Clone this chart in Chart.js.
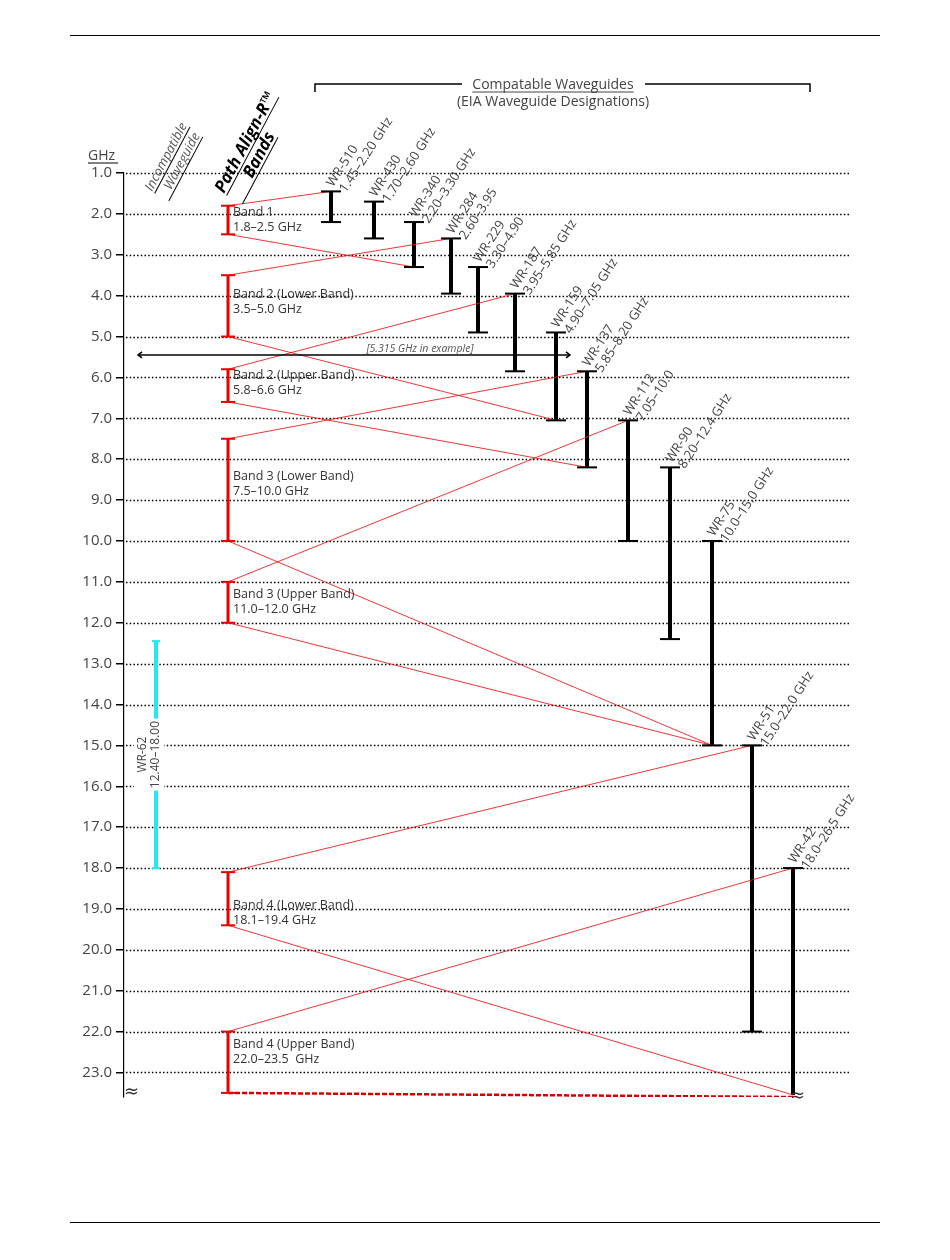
<!DOCTYPE html>
<html><head><meta charset="utf-8">
<script src="https://cdn.jsdelivr.net/npm/chart.js@4.4.1/dist/chart.umd.min.js"></script>
<style>html,body{margin:0;padding:0;background:#fff}</style>
</head><body>
<canvas id="c" width="950" height="1260"></canvas>
<script>
// ---- data ----
const wgNames  = ['WR-510','WR-430','WR-340','WR-284','WR-229','WR-187','WR-159','WR-137','WR-112','WR-90','WR-75','WR-51','WR-42'];
const wgLow    = [1.45,1.70,2.20,2.60,3.30,3.95,4.90,5.85,7.05,8.20,10.0,15.0,18.0];
const wgHigh   = [2.20,2.60,3.30,3.95,4.90,5.85,7.05,8.20,10.0,12.4,15.0,22.0,26.5];
const wgRange  = ['1.45–2.20 GHz','1.70–2.60 GHz','2.20–3.30 GHz','2.60–3.95','3.30–4.90','3.95–5.85 GHz','4.90–7.05 GHz','5.85–8.20 GHz','7.05–10.0','8.20–12.4 GHz','10.0–15.0 GHz','15.0–22.0 GHz','18.0–26.5 GHz'];
const bandNames = ['Band 1','Band 2 (Lower Band)','Band 2 (Upper Band)','Band 3 (Lower Band)','Band 3 (Upper Band)','Band 4 (Lower Band)','Band 4 (Upper Band)'];
const bandLow   = [1.8,3.5,5.8,7.5,11.0,18.1,22.0];
const bandHigh  = [2.5,5.0,6.6,10.0,12.0,19.4,23.5];
const bandRange = ['1.8–2.5 GHz','3.5–5.0 GHz','5.8–6.6 GHz','7.5–10.0 GHz','11.0–12.0 GHz','18.1–19.4 GHz','22.0–23.5  GHz'];
// band -> waveguide connections: [band, bandEnd, waveguide, wgEnd]
const links = [[0,'lo',0,'lo'],[0,'hi',2,'hi'],[1,'lo',3,'lo'],[1,'hi',6,'hi'],[2,'lo',5,'lo'],[2,'hi',7,'hi'],
  [3,'lo',7,'lo'],[3,'hi',10,'hi'],[4,'lo',8,'lo'],[4,'hi',10,'hi'],[5,'lo',11,'lo'],[5,'hi',12,'hi'],[6,'lo',12,'lo'],[6,'hi',12,'hi']];
const incompName = 'WR-62', incompLow = 12.45, incompHigh = 18.0, incompRange = '12.40–18.00';
const exampleGHz = 5.45, exampleLabel = '[5.315 GHz in example]';
const yTicks = [1,2,3,4,5,6,7,8,9,10,11,12,13,14,15,16,17,18,19,20,21,22,23];

// ---- layout (not data) ----
const wgX = [207,250,290,327,354,391,432,463,504,546,588,628,669];
const bandX = 104, incompX = 32, AX = 124;
const bandLabelY = [2.05,4.05,6.05,8.5,11.4,19.0,22.4];
const YCLIP = 23.55;

const datasets = [];
const clip = v => Math.min(v, YCLIP);
links.forEach(([b,be,w,we],i) => {
  const dashed = (b===6 && be==='hi');
  datasets.push({data:[{x:bandX,y:clip(be==='lo'?bandLow[b]:bandHigh[b])},{x:wgX[w],y:clip(we==='lo'?wgLow[w]:wgHigh[w])+(dashed?0.05:0)}],
    borderColor: dashed?'#d40000':'rgba(235,20,20,0.85)', borderWidth: dashed?2.5:1, borderDash: dashed?[5,2]:[], pointRadius:0});
});
wgNames.forEach((n,i)=>datasets.push({data:[{x:wgX[i],y:wgLow[i]},{x:wgX[i],y:clip(wgHigh[i])}],borderColor:'#000',borderWidth:4,pointRadius:0,borderCapStyle:'butt'}));
bandNames.forEach((n,i)=>datasets.push({data:[{x:bandX,y:bandLow[i]},{x:bandX,y:bandHigh[i]}],borderColor:'#ee0000',borderWidth:3,pointRadius:0,borderCapStyle:'butt'}));
datasets.push({data:[{x:incompX,y:incompLow},{x:incompX,y:incompHigh}],borderColor:'#22e8f2',borderWidth:4,pointRadius:0,borderCapStyle:'butt'});

const deco = {
  id:'deco',
  beforeDatasetsDraw(chart){
    const {ctx, scales:{x,y}} = chart;
    ctx.save();
    ctx.strokeStyle='#000'; ctx.lineWidth=1.6; ctx.setLineDash([1.5,2.2]);
    yTicks.forEach(v=>{const py=Math.round(y.getPixelForValue(v))+0.5;ctx.beginPath();ctx.moveTo(AX+2,py);ctx.lineTo(850,py);ctx.stroke();});
    ctx.restore();
  },
  afterDatasetsDraw(chart){
    const {ctx, scales:{x,y}} = chart;
    const X=v=>x.getPixelForValue(v), Y=v=>y.getPixelForValue(v);
    ctx.save();
    const cap=(px,py,w,col,lw)=>{ctx.strokeStyle=col;ctx.lineWidth=lw;ctx.beginPath();ctx.moveTo(px-w/2,py);ctx.lineTo(px+w/2,py);ctx.stroke();};
    wgNames.forEach((n,i)=>{cap(X(wgX[i]),Y(wgLow[i]),20,'#000',2); if(wgHigh[i]<YCLIP) cap(X(wgX[i]),Y(wgHigh[i]),20,'#000',2);});
    bandNames.forEach((n,i)=>{cap(X(bandX),Y(bandLow[i]),14,'#ee0000',2);cap(X(bandX),Y(bandHigh[i]),14,'#ee0000',2);});
    cap(X(incompX),Y(incompLow),8,'#22e8f2',2);cap(X(incompX),Y(incompHigh),8,'#22e8f2',2);
    // waveguide labels
    ctx.fillStyle='#444'; ctx.font='13px "Open Sans"';
    wgNames.forEach((n,i)=>{
      ctx.save(); ctx.translate(X(wgX[i])+2,Y(wgLow[i])-4); ctx.rotate(-57*Math.PI/180);
      ctx.textAlign='left'; ctx.textBaseline='alphabetic';
      ctx.fillText(n,0,0); ctx.fillText(wgRange[i],2,14); ctx.restore();
    });
    // band labels
    ctx.font='12.5px "Open Sans"'; ctx.fillStyle='#333';
    bandNames.forEach((n,i)=>{const py=Y(bandLabelY[i]); ctx.fillText(n,X(bandX)+5,py); ctx.fillText(bandRange[i],X(bandX)+5,py+15);});
    // incompatible label
    ctx.save(); ctx.translate(X(incompX)-10,Y((incompLow+incompHigh)/2)); ctx.rotate(-Math.PI/2);
    ctx.fillStyle='#fff'; ctx.fillRect(-36,-12,72,30);
    ctx.fillStyle='#444'; ctx.textAlign='center'; ctx.font='12px "Open Sans"';
    ctx.fillText(incompName,0,0); ctx.fillText(incompRange,0,13); ctx.restore();
    // example line
    const ey=Y(exampleGHz);
    ctx.strokeStyle='#000'; ctx.lineWidth=1.5; ctx.beginPath(); ctx.moveTo(138,ey); ctx.lineTo(570,ey); ctx.stroke();
    ctx.beginPath(); ctx.moveTo(142,ey-3);ctx.lineTo(138,ey);ctx.lineTo(142,ey+3); ctx.moveTo(566,ey-3);ctx.lineTo(570,ey);ctx.lineTo(566,ey+3); ctx.stroke();
    ctx.font='italic 10.5px "Open Sans"'; ctx.fillStyle='#555'; ctx.textAlign='center'; ctx.fillText(exampleLabel,420,ey-3);
    // header
    ctx.textAlign='center'; ctx.fillStyle='#444'; ctx.font='14px "Open Sans"';
    ctx.fillText('Compatable Waveguides',553,89); ctx.fillText('(EIA Waveguide Designations)',553,106);
    const tw=ctx.measureText('Compatable Waveguides').width;
    ctx.strokeStyle='#444'; ctx.lineWidth=1; ctx.beginPath(); ctx.moveTo(553-tw/2,92); ctx.lineTo(553+tw/2,92); ctx.stroke();
    ctx.strokeStyle='#000'; ctx.lineWidth=1.5; ctx.beginPath();
    ctx.moveTo(315,92);ctx.lineTo(315,84);ctx.lineTo(462,84); ctx.moveTo(645,84);ctx.lineTo(810,84);ctx.lineTo(810,92); ctx.stroke();
    // GHz
    ctx.textAlign='left'; ctx.font='14px "Open Sans"'; ctx.fillStyle='#444'; ctx.fillText('GHz',88,160);
    ctx.beginPath(); ctx.lineWidth=1; ctx.moveTo(88,163); ctx.lineTo(118,163); ctx.stroke();
    // rotated column heads
    const rot=(lines,px,py,font,col,lh)=>{ctx.save();ctx.translate(px,py);ctx.rotate(-62*Math.PI/180);ctx.font=font;ctx.fillStyle=col;ctx.strokeStyle='#000';ctx.lineWidth=1;
      lines.forEach((t,k)=>{const yy=k*lh;ctx.fillText(t,0,yy);const w=ctx.measureText(t).width;ctx.beginPath();ctx.moveTo(0,yy+3);ctx.lineTo(w,yy+3);ctx.stroke();});ctx.restore();};
    rot(['Incompatible','   Waveguide'],152,192,'italic 13px "Open Sans"','#555',16);
    rot(['Path Align-R™','      Bands'],224,194,'bold italic 17px "Open Sans"','#000',18);
    // break marks
    ctx.font='18px "DejaVu Sans"'; ctx.fillStyle='#333'; ctx.fillText('≈',124,1097); ctx.fillText('≈',790,1101);
    // page rules
    ctx.strokeStyle='#000'; ctx.lineWidth=1; ctx.beginPath(); ctx.moveTo(70,35.5);ctx.lineTo(880,35.5); ctx.moveTo(70,1222.5);ctx.lineTo(880,1222.5); ctx.stroke();
    ctx.restore();
  }
};

new Chart(document.getElementById('c'),{
  type:'line',
  data:{datasets},
  options:{
    responsive:false, animation:false, devicePixelRatio:1,
    layout:{padding:{left:0,right:100,top:173,bottom:163}},
    plugins:{legend:{display:false},tooltip:{enabled:false}},
    scales:{
      x:{type:'linear',min:0,max:726,display:false},
      y:{type:'linear',reverse:true,min:1,max:23.6,
        afterBuildTicks(s){s.ticks=yTicks.map(v=>({value:v}));},
        afterFit(s){s.width=124;},
        ticks:{callback:v=>Number(v).toFixed(1),color:'#444',font:{family:'Open Sans',size:15},padding:4},
        grid:{drawOnChartArea:false,drawTicks:true,tickLength:8,color:'#000',lineWidth:1.5},
        border:{display:true,color:'#000',width:1.2}
      }
    }
  },
  plugins:[deco]
});
</script>
</body></html>
